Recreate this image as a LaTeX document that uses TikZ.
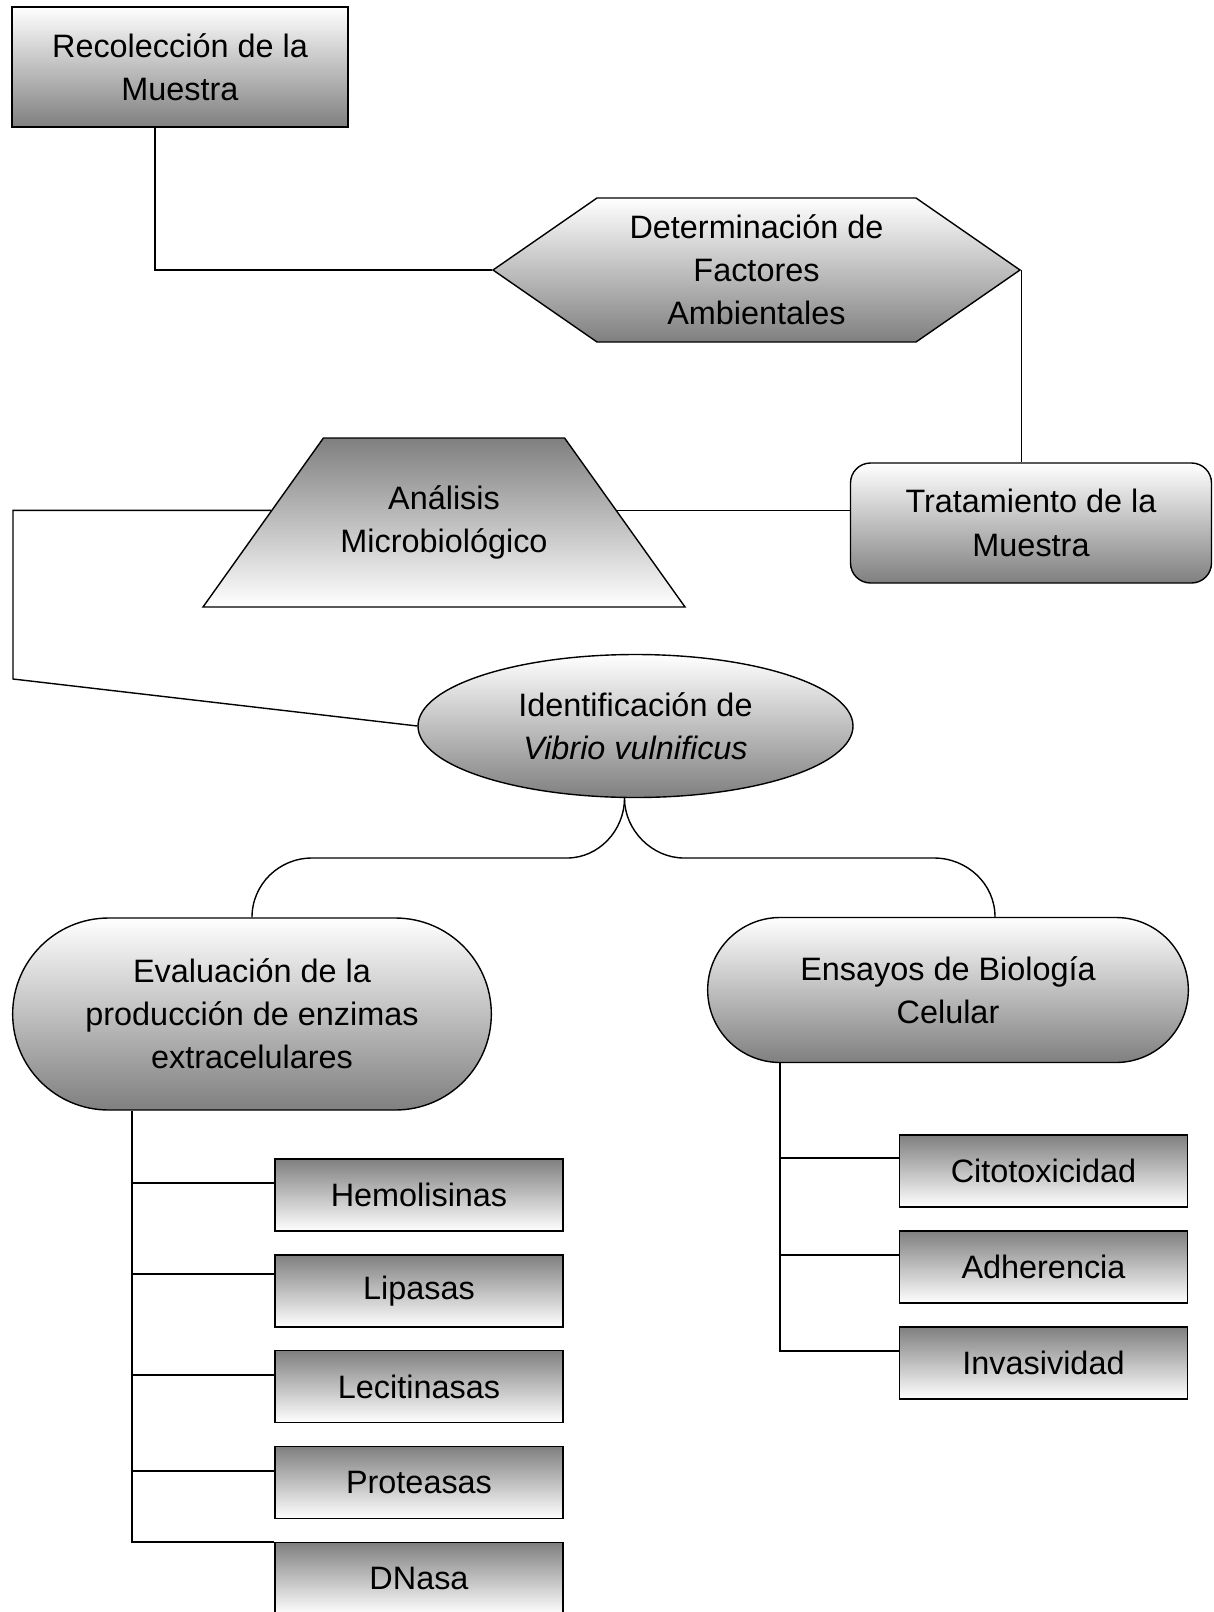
\documentclass[tikz,border=0pt]{standalone}
\usepackage{fontspec}
\setmainfont{Liberation Sans}
\usetikzlibrary{shapes.geometric,shapes.misc,shapes.symbols}
\tikzset{
  shadedown/.style={draw, line width=0.7pt, top color=white, bottom color=gray, align=center},
  shadeup/.style={draw, line width=0.7pt, top color=gray, bottom color=white, align=center},
  itembox/.style={shadeup, minimum width=144pt, minimum height=36pt, inner sep=0pt},
  link/.style={line width=0.7pt}
}
\begin{document}
\begin{tikzpicture}[x=0.5pt,y=-0.5pt,every node/.style={font=\fontsize{16.2pt}{21.6pt}\selectfont}]
\useasboundingbox (0,0) rectangle (1214,1612);

\node[shadedown, minimum width=168pt, minimum height=60pt] (rec) at (180,67) {Recolección de la\\Muestra};
\node[shadedown, signal, signal to=west and east, signal pointer angle=69.4, minimum width=263.5pt, minimum height=72pt, inner sep=0pt] (det) at (756.5,270) {Determinación de\\Factores\\Ambientales};
\node[shadedown, rounded corners=10pt, minimum width=180.5pt, minimum height=60pt] (trat) at (1031,523) {Tratamiento de la\\Muestra};
\node[shadeup, trapezium, trapezium left angle=31.5, trapezium right angle=31.5, trapezium stretches body, minimum width=241pt, minimum height=84.5pt, inner sep=0pt] (ana) at (444,522.5) {Análisis\\Microbiológico};
\node[shadedown, ellipse, minimum width=217.5pt, minimum height=71.5pt, inner sep=0pt] (id) at (635.5,726) {Identificación de\\\textit{Vibrio vulnificus}};

\node[shadedown, rounded rectangle, minimum width=246pt, minimum height=96pt] (eva) at (252,1014) {Evaluación de la\\producción de enzimas\\extracelulares};
\node[shadedown, rounded rectangle, minimum width=247pt, minimum height=72.5pt] (ens) at (948,990) {Ensayos de Biología\\Celular};

% enzimas
\node[itembox] (hem) at (419,1195) {Hemolisinas};
\node[itembox] (lip) at (419,1291) {Lipasas};
\node[itembox] (lec) at (419,1386.5) {Lecitinasas};
\node[itembox] (pro) at (419,1482.5) {Proteasas};
\node[itembox] (dna) at (419,1578.5) {DNasa};

% biologia celular
\node[itembox] (cit) at (1043.5,1171) {Citotoxicidad};
\node[itembox] (adh) at (1043.5,1267) {Adherencia};
\node[itembox] (inv) at (1043.5,1363) {Invasividad};

\draw[link] ([xshift=-12.5pt]rec.south) |- (det.west);
\draw[link] (det.east) -- (det.east |- trat.north);
\draw[link] (ana.4) -- (ana.4 -| trat.west);
\coordinate (lft) at (13,679);
\draw[link] (ana.176) -- (ana.176 -| lft) -- (lft) -- (id.west);

\coordinate (idb) at ([xshift=-5.5pt]id.south);
\coordinate (jl) at (567,858);
\coordinate (kl) at (312,858);
\coordinate (jr) at (684,858);
\coordinate (kr) at (934,858);
\draw[link] (idb) .. controls +(0pt,-16pt) and +(16pt,0pt) .. (jl) -- (kl) .. controls +(-16.5pt,0pt) and +(0pt,16.5pt) .. (eva.north);
\draw[link] (idb) .. controls +(0pt,-16pt) and +(-16pt,0pt) .. (jr) -- (kr) .. controls +(16.5pt,0pt) and +(0pt,16.5pt) .. ([xshift=23.5pt]ens.north);

\draw[link] ([xshift=-60pt]eva.south) |- (dna.north west);
\foreach \n/\d in {hem/6,lip/8.5,lec/5.75,pro/5.75}
  \draw[link] ([yshift=\d pt]\n.west) -- ++(-143,0);
\draw[link] ([xshift=-84pt]ens.south) |- ([yshift=6pt]inv.west);
\foreach \n/\d in {cit/6.5,adh/6}
  \draw[link] ([yshift=\d pt]\n.west) -- ++(-119,0);
\end{tikzpicture}
\end{document}
